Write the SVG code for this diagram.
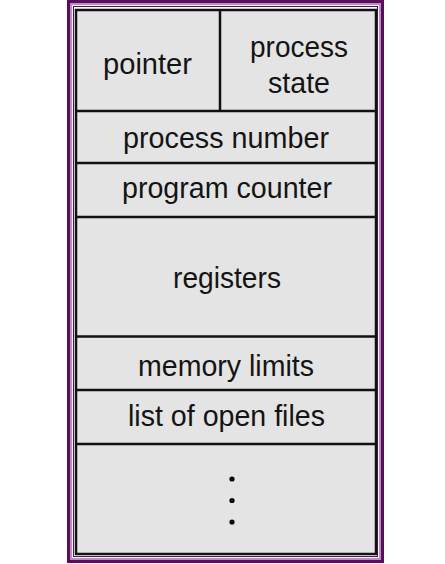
<svg xmlns="http://www.w3.org/2000/svg" width="445" height="564" viewBox="0 0 445 564">
<style>
.lbl{font-family:"Liberation Sans",Arial,Helvetica,sans-serif;font-size:29.5px;fill:#141414;text-anchor:middle}
.div{stroke:#111;stroke-width:2.5;fill:none}
</style>
<rect width="445" height="564" fill="#ffffff"/>
<g id="frame">
<rect x="68.5" y="1.5" width="314" height="560" fill="none" stroke="#5e0a62" stroke-width="3"/>
<rect x="71" y="4" width="309" height="555" fill="none" stroke="#b592b8" stroke-width="2"/>
<rect x="73.5" y="6.5" width="304" height="550" fill="none" stroke="#5e0a62" stroke-width="1"/>
<rect x="76" y="10" width="300" height="544" fill="#e4e4e4" stroke="#111" stroke-width="2.5"/>
</g>
<g id="connectors">
<line class="div" x1="76" y1="111" x2="376" y2="111"/>
<line class="div" x1="220" y1="10" x2="220" y2="111"/>
<line class="div" x1="76" y1="163" x2="376" y2="163"/>
<line class="div" x1="76" y1="217" x2="376" y2="217"/>
<line class="div" x1="76" y1="336.5" x2="376" y2="336.5"/>
<line class="div" x1="76" y1="390" x2="376" y2="390"/>
<line class="div" x1="76" y1="444" x2="376" y2="444"/>
</g>
<g id="pointer"><text class="lbl" x="147.5" y="74" textLength="89" lengthAdjust="spacingAndGlyphs">pointer</text></g>
<g id="process-state">
<text class="lbl" x="299" y="57" textLength="98" lengthAdjust="spacingAndGlyphs">process</text>
<text class="lbl" x="299" y="92.5" textLength="62" lengthAdjust="spacingAndGlyphs">state</text>
</g>
<g id="process-number"><text class="lbl" x="226" y="148" textLength="206" lengthAdjust="spacingAndGlyphs">process number</text></g>
<g id="program-counter"><text class="lbl" x="227" y="198" textLength="210" lengthAdjust="spacingAndGlyphs">program counter</text></g>
<g id="registers"><text class="lbl" x="227" y="288" textLength="108" lengthAdjust="spacingAndGlyphs">registers</text></g>
<g id="memory-limits"><text class="lbl" x="226" y="376" textLength="176" lengthAdjust="spacingAndGlyphs">memory limits</text></g>
<g id="list-of-open-files"><text class="lbl" x="226.5" y="426" textLength="197" lengthAdjust="spacingAndGlyphs">list of open files</text></g>
<g id="ellipsis" fill="#000">
<circle cx="232" cy="479" r="2.6"/>
<circle cx="232" cy="500.5" r="2.6"/>
<circle cx="232" cy="522" r="2.6"/>
</g>
</svg>
